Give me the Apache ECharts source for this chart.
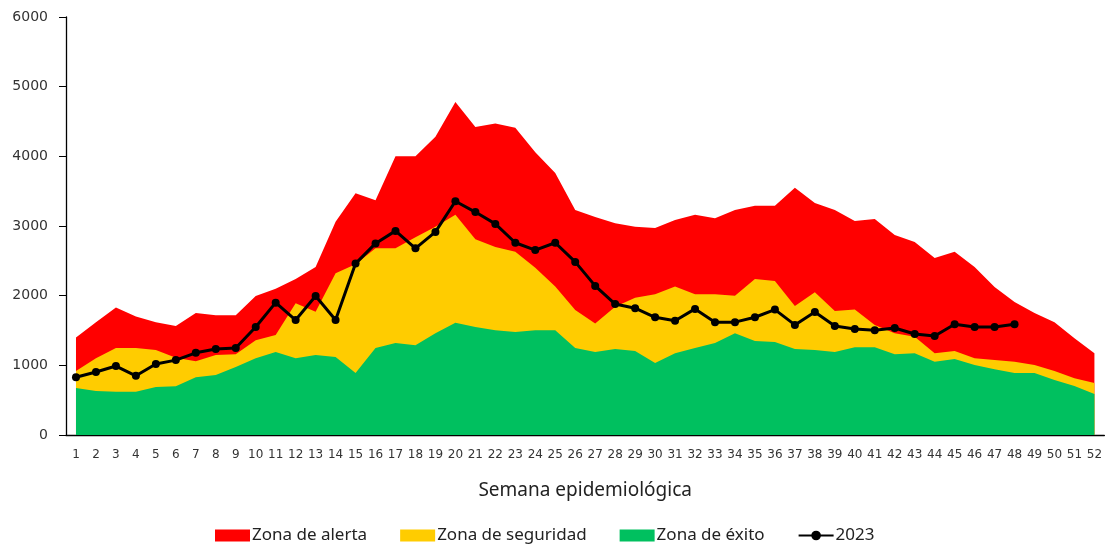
<!DOCTYPE html>
<html>
<head>
<meta charset="utf-8">
<script src="https://cdn.jsdelivr.net/npm/echarts@6/dist/echarts.min.js"></script>
<style>html,body{margin:0;padding:0;background:#fff;}#c{width:1105px;height:546px;}</style>
</head>
<body>
<div id="c"></div>
<script>
const weeks = Array.from({length: 52}, (_, i) => String(i + 1));
const yTicks = [0, 1000, 2000, 3000, 4000, 5000, 6000];
const zonaAlerta = [1400,1620,1830,1700,1620,1565,1750,1720,1720,1995,2100,2240,2410,3060,3470,3370,4000,4000,4280,4780,4420,4470,4410,4060,3760,3230,3130,3040,2990,2970,3085,3160,3110,3230,3290,3290,3550,3330,3230,3070,3100,2870,2770,2540,2630,2410,2125,1910,1750,1620,1390,1175];
const zonaSeguridad = [920,1100,1250,1250,1220,1110,1060,1150,1160,1360,1435,1890,1770,2320,2450,2680,2680,2840,2990,3160,2810,2700,2630,2400,2130,1795,1600,1840,1970,2020,2130,2020,2020,2000,2240,2210,1850,2050,1780,1800,1580,1460,1410,1175,1205,1100,1075,1050,1005,920,815,745];
const zonaExito = [675,630,620,620,690,700,830,860,975,1100,1190,1100,1150,1120,890,1250,1320,1290,1460,1610,1550,1505,1480,1505,1505,1250,1190,1235,1205,1035,1175,1250,1320,1460,1350,1335,1235,1220,1190,1260,1260,1160,1175,1050,1090,1005,945,890,890,790,705,590];
const serie2023 = [830,905,990,850,1020,1075,1180,1235,1250,1550,1900,1650,1995,1650,2460,2750,2930,2680,2915,3355,3200,3030,2760,2655,2760,2485,2140,1880,1820,1690,1640,1810,1620,1620,1690,1800,1580,1765,1565,1520,1505,1535,1450,1420,1590,1550,1550,1590];

const chart = echarts.init(document.getElementById('c'), null, {renderer: 'canvas'});
const areaSeries = (name, data, color) => ({
  name, type: 'line', data, showSymbol: false, symbol: 'none',
  lineStyle: {width: 0, color}, itemStyle: {color},
  areaStyle: {color, opacity: 1}, silent: true, animation: false
});
chart.setOption({
  animation: false,
  textStyle: {fontFamily: 'DejaVu Sans'},
  grid: {left: 66, top: 17, width: 1044, height: 418, containLabel: false},
  legend: {
    top: 522, left: 210,
    itemWidth: 35, itemHeight: 12, itemGap: 33,
    textStyle: {fontFamily: 'Noto Sans', fontSize: 17, color: '#222', padding: [0, 0, 0, -3]},
    data: [
      {name: 'Zona de alerta', icon: 'rect'},
      {name: 'Zona de seguridad', icon: 'rect'},
      {name: 'Zona de éxito', icon: 'rect'},
      {name: '2023'}
    ]
  },
  xAxis: {
    type: 'category', data: weeks, boundaryGap: true,
    name: 'Semana epidemiológica', nameLocation: 'middle', nameGap: 46,
    nameTextStyle: {fontFamily: 'Noto Sans', fontSize: 19, color: '#222'},
    axisLine: {lineStyle: {color: '#000', width: 1.3}},
    axisTick: {alignWithLabel: true, interval: 0, length: 4, lineStyle: {color: '#000'}},
    axisLabel: {interval: 0, fontSize: 12, color: '#333', margin: 14}
  },
  yAxis: {
    type: 'value', min: yTicks[0], max: yTicks[yTicks.length - 1], interval: 1000,
    axisLine: {show: true, lineStyle: {color: '#000', width: 1.3}},
    axisTick: {show: true, length: 7, lineStyle: {color: '#000'}},
    splitLine: {show: false},
    axisLabel: {fontSize: 14, color: '#333', margin: 18, formatter: v => String(v)}
  },
  series: [
    areaSeries('Zona de alerta', zonaAlerta, '#FF0000'),
    areaSeries('Zona de seguridad', zonaSeguridad, '#FFCC00'),
    areaSeries('Zona de éxito', zonaExito, '#00C05F'),
    {
      name: '2023', type: 'line', data: serie2023,
      symbol: 'circle', symbolSize: 8, showSymbol: true,
      lineStyle: {color: '#000', width: 3}, itemStyle: {color: '#000'},
      z: 5, animation: false
    }
  ]
});
</script>
</body>
</html>
